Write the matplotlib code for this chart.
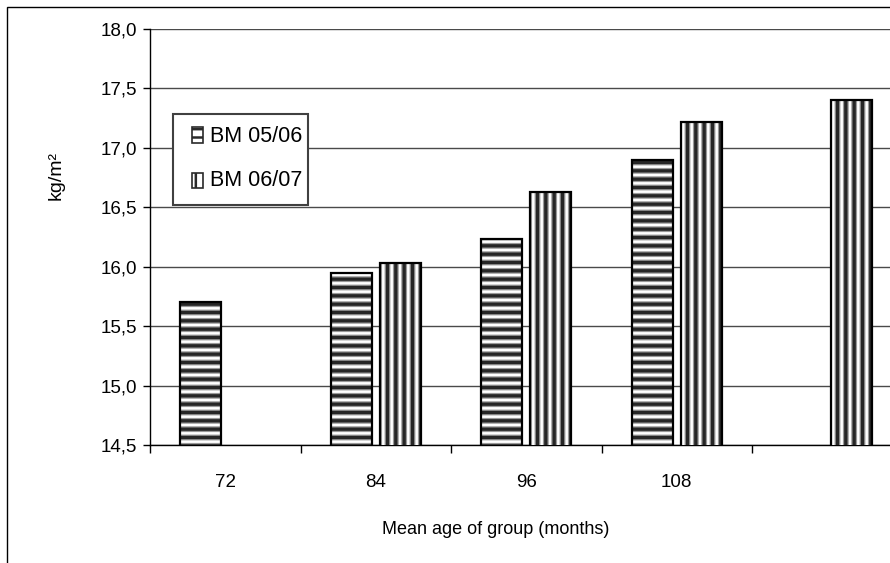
import numpy as np
import matplotlib
matplotlib.use("Agg")
import matplotlib.pyplot as plt
from matplotlib.patches import Rectangle
from matplotlib.ticker import FuncFormatter, MultipleLocator, FixedLocator

# Mean BMI by age group for two school years
categories = ["72", "84", "96", "108", ""]
bm_0506 = [15.70, 15.95, 16.23, 16.90, np.nan]
bm_0607 = [np.nan, 16.03, 16.63, 17.22, 17.40]
series_labels = ["BM 05/06", "BM 06/07"]
series_hatches = ["--", "||"]

plt.rcParams["font.family"] = ["Liberation Sans", "DejaVu Sans"]
plt.rcParams["font.size"] = 13.5

W, H = 890, 563
fig = plt.figure(figsize=(W / 100, H / 100), dpi=100)
fig.patch.set_facecolor("white")


def px(xp, yp):
    """Pixel position (from top-left) to figure fraction."""
    return xp / W, 1 - yp / H


# outer chart frame (runs off the right and bottom edges)
fig.add_artist(Rectangle((7 / W, -0.2), 1.5, 1.2 - 7 / H, transform=fig.transFigure,
                         fill=False, edgecolor="black", linewidth=1.0, zorder=0))

cat_w = 150.5
ax = fig.add_axes([150 / W, (H - 445) / H, 5 * cat_w / W, 416 / H])

x = np.arange(len(categories))
bar_w = 41 / cat_w
off = 24.5 / cat_w


def set_hlw(patches, lw):
    for p in patches:
        if hasattr(p, "set_hatch_linewidth"):
            p.set_hatch_linewidth(lw)


def striped_bars(xpos, vals, hatch):
    xs = [xi for xi, v in zip(xpos, vals) if not np.isnan(v)]
    vs = [v for v in vals if not np.isnan(v)]
    # soft wide stripes underneath, sharp dark stripes on top
    with plt.rc_context({"hatch.linewidth": 4.2}):
        under = ax.bar(xs, vs, width=bar_w, color="white", edgecolor="#999999",
                       linewidth=0, hatch=hatch, zorder=3)
        set_hlw(under, 4.2)
    with plt.rc_context({"hatch.linewidth": 2.4}):
        top = ax.bar(xs, vs, width=bar_w, color="none", edgecolor="#262626",
                     linewidth=0, hatch=hatch, zorder=4)
        set_hlw(top, 2.4)
    ax.bar(xs, vs, width=bar_w, color="none", edgecolor="black",
           linewidth=1.6, zorder=5)


striped_bars(x - off, bm_0506, series_hatches[0])
striped_bars(x + off, bm_0607, series_hatches[1])

ax.set_ylim(14.5, 18.0)
ax.set_xlim(-0.5, len(categories) - 0.5)
ax.yaxis.set_major_locator(MultipleLocator(0.5))
ax.yaxis.set_major_formatter(FuncFormatter(lambda v, p: f"{v:.1f}".replace(".", ",")))
ax.grid(axis="y", color="#4a4a4a", linewidth=1.0, zorder=1)
ax.set_axisbelow(True)

ax.set_xticks(x)
ax.set_xticklabels(categories)
ax.xaxis.set_minor_locator(FixedLocator(np.arange(-0.5, len(categories) - 0.5, 1.0)))
ax.tick_params(axis="x", which="major", length=0, pad=21)
ax.tick_params(axis="x", which="minor", length=6, width=1, direction="out", color="black")
ax.tick_params(axis="y", length=5, width=1, direction="out", pad=4)

for s in ("top", "right"):
    ax.spines[s].set_visible(False)
for s in ("left", "bottom"):
    ax.spines[s].set_color("black")
    ax.spines[s].set_linewidth(1.0)

fig.text(*px(496, 530), "Mean age of group (months)", ha="center", va="center",
         fontsize=13)
fig.text(*px(56, 176), "kg/m²", ha="center", va="center", rotation=90, fontsize=14)

# legend box
lx0, ly0, lx1, ly1 = 173, 114, 308, 205
fig.add_artist(Rectangle(px(lx0, ly1), (lx1 - lx0) / W, (ly1 - ly0) / H,
                         transform=fig.transFigure, facecolor="white",
                         edgecolor="#404040", linewidth=1.5, zorder=10))
row_y = [135, 180]
for lab, hatch, ry in zip(series_labels, series_hatches, row_y):
    hx, hy = px(192, ry + 7.5)
    with plt.rc_context({"hatch.linewidth": 1.8}):
        h = Rectangle((hx, hy), 11 / W, 15 / H, transform=fig.transFigure,
                      facecolor="white", edgecolor="#2a2a2a", linewidth=1.2,
                      hatch=hatch, zorder=11)
        set_hlw([h], 1.8)
    fig.add_artist(h)
    fig.text(*px(210, ry + 1), lab, ha="left", va="center", fontsize=15.5, zorder=12)

fig.savefig("out.png", dpi=100)
